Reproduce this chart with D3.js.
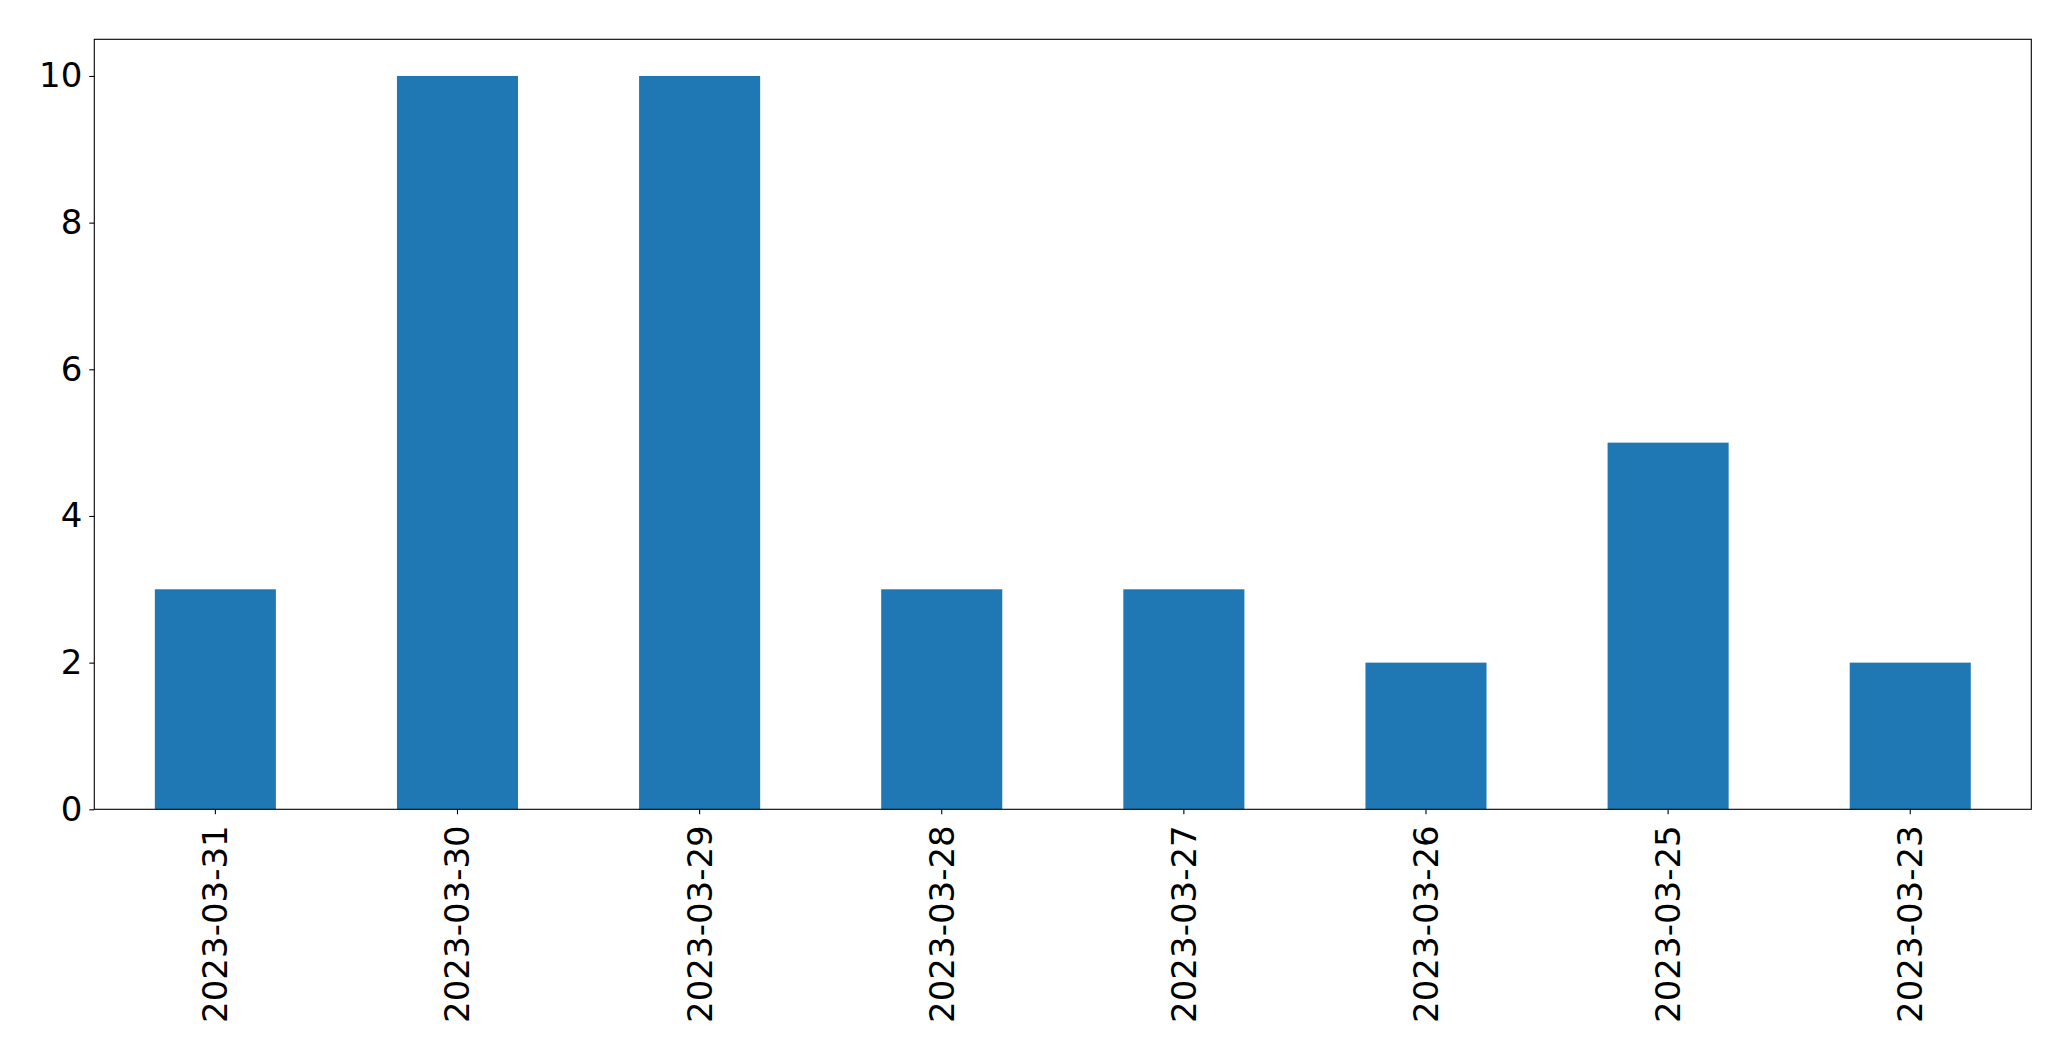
<!DOCTYPE html>
<html>
<head>
<meta charset="utf-8">
<script src="https://cdn.jsdelivr.net/npm/d3@7"></script>
<style>
html,body{margin:0;padding:0;background:#fff;}
svg{display:block;}
text{font-family:"DejaVu Sans",sans-serif;fill:#000;}
</style>
</head>
<body>
<svg id="chart" width="2071" height="1061"></svg>
<script>
const categories = ["2023-03-31","2023-03-30","2023-03-29","2023-03-28","2023-03-27","2023-03-26","2023-03-25","2023-03-23"];
const values = [3,10,10,3,3,2,5,2];
const yTicks = [0,2,4,6,8,10];

const W = 2071, H = 1061;
const m = {left:94.3, top:39.3, right:W-2031.3, bottom:H-809.3};
const iw = W - m.left - m.right, ih = H - m.top - m.bottom;
const fontSize = 34;

const svg = d3.select("#chart");
const g = svg.append("g").attr("transform", `translate(${m.left},${m.top})`);

const x = d3.scaleBand().domain(categories).range([0, iw]).paddingInner(0.5).paddingOuter(0.25);
const y = d3.scaleLinear().domain([0, 10.5]).range([ih, 0]);

g.selectAll("rect.bar").data(values).join("rect")
  .attr("class","bar")
  .attr("x",(d,i)=>x(categories[i]))
  .attr("width",x.bandwidth())
  .attr("y",d=>y(d))
  .attr("height",d=>ih-y(d))
  .attr("fill","#1f77b4");

const yAxis = g.append("g").call(d3.axisLeft(y).tickValues(yTicks).tickSize(5).tickPadding(7).tickFormat(d3.format("d")));
yAxis.select(".domain").remove();
yAxis.selectAll("line").attr("stroke","#000").attr("stroke-width",1.1);
yAxis.selectAll("text").style("font-size",fontSize+"px").attr("font-family","DejaVu Sans");

const xAxis = g.append("g").attr("transform",`translate(0,${ih})`)
  .call(d3.axisBottom(x).tickSize(5).tickPadding(0));
xAxis.select(".domain").remove();
xAxis.selectAll("line").attr("stroke","#000").attr("stroke-width",1.1);
xAxis.selectAll("text")
  .style("font-size",fontSize+"px")
  .attr("font-family","DejaVu Sans")
  .attr("text-anchor","end")
  .attr("dy","0.35em")
  .attr("transform","translate(0,16) rotate(-90)")
  .attr("x",0).attr("y",0);

g.append("rect").attr("x",0).attr("y",0).attr("width",iw).attr("height",ih)
  .attr("fill","none").attr("stroke","#000").attr("stroke-width",1.1);
</script>
</body>
</html>
